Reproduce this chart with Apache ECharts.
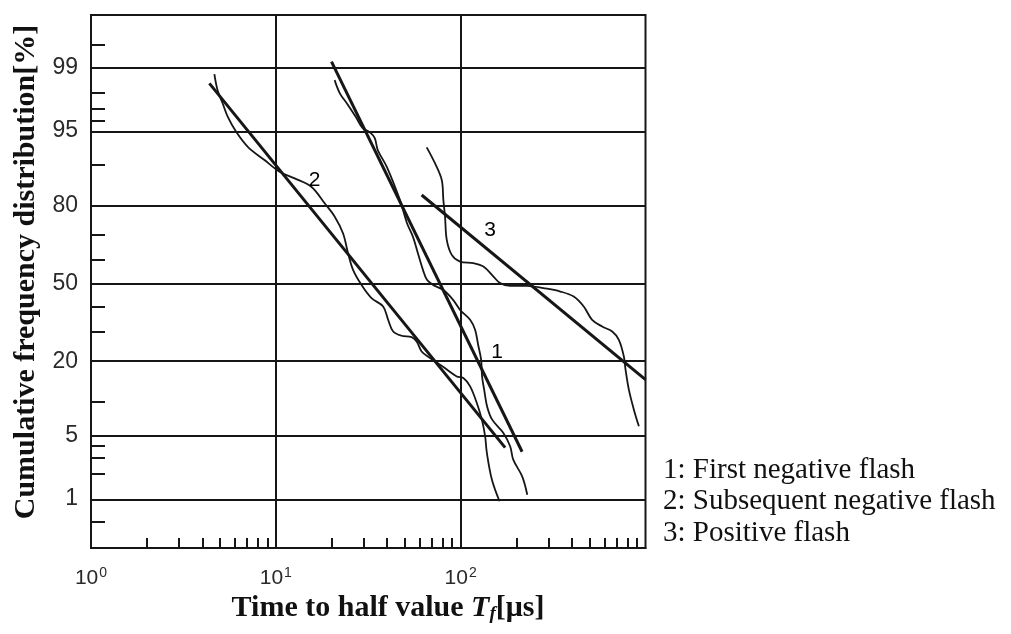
<!DOCTYPE html>
<html>
<head>
<meta charset="utf-8">
<script src="https://cdn.jsdelivr.net/npm/echarts@6/dist/echarts.min.js"></script>
<style>
  html, body { margin: 0; padding: 0; background: #fff; }
  #chart { width: 1011px; height: 634px; }
</style>
</head>
<body>
<div id="chart"></div>
<script>
// Probability-grid tick values (cumulative %)
const yTickPct = [1, 5, 20, 50, 80, 95, 99];
const yMinorPct = [0.5, 2, 3, 4, 10, 30, 40, 60, 70, 90, 96, 97, 98, 99.5];
// Time axis (µs), logarithmic
const xLabelVals = [1, 10, 100];
const xGridVals = [10, 100];
const xMinorVals = [2, 3, 4, 5, 6, 7, 8, 9, 20, 30, 40, 50, 60, 70, 80, 90, 200, 300, 400, 500, 600, 700, 800, 900];

// [T (µs), cumulative %]
// 1: first negative flash
const fit1 = [[20.0, 99.16], [215, 3.47]];
const flash1 = [
  [20.8, 98.58], [22.2, 97.98], [24.2, 97.40], [27.1, 96.36], [29.5, 95.30], [32.2, 94.86],
  [34.3, 94.14], [35.6, 92.47], [39.9, 89.51], [46.9, 81.59], [51.2, 74.25], [55.2, 69.19],
  [58.0, 64.08], [62.5, 55.78], [65.7, 51.50], [70.8, 49.35], [80.3, 47.21], [91.0, 42.94],
  [99.2, 38.76], [112.5, 34.71], [119.7, 30.81], [124.3, 25.40], [129.0, 20.51], [130.6, 15.69],
  [134.0, 12.58], [139.1, 9.18], [148.1, 7.08], [169.9, 5.36], [185.4, 3.92], [192.5, 2.86],
  [215.4, 1.86], [229.3, 1.13]
];
// 2: subsequent negative flash
const fit2 = [[4.37, 98.45], [174, 3.82]];
const flash2 = [
  [4.65, 98.80], [4.84, 98.14], [5.16, 97.38], [5.49, 96.39], [6.10, 94.89], [7.05, 92.96],
  [8.68, 90.82], [10.47, 88.58], [12.64, 87.13], [15.56, 85.13], [18.37, 80.60], [20.83, 76.40],
  [23.09, 70.56], [24.59, 62.75], [26.17, 55.78], [29.06, 49.35], [32.93, 43.67], [38.07, 40.14],
  [40.53, 34.71], [43.14, 30.18], [47.90, 28.60], [54.29, 28.12], [57.78, 26.55], [61.50, 23.14],
  [68.23, 21.02], [80.27, 18.41], [95.24, 15.76], [103.4, 15.37], [112.5, 13.32], [122.3, 9.84],
  [130.2, 7.08], [135.6, 4.96], [138.6, 3.37], [147.5, 1.72], [162.2, 0.94]
];
// 3: positive flash
const fit3 = [[61.5, 82.96], [1000, 14.95]];
const flash3 = [
  [65.5, 92.88], [72.6, 90.24], [79.0, 86.75], [80.6, 81.59], [82.3, 76.40], [84.1, 68.03],
  [89.5, 62.06], [99.2, 59.28], [117.2, 58.61], [132.8, 57.18], [150.5, 52.92], [163.6, 50.09],
  [185.4, 48.93], [228.5, 48.93], [281.0, 47.94], [346.2, 46.48], [408.8, 44.35], [463.3, 40.14],
  [514.3, 34.71], [583.1, 32.09], [660.6, 30.18], [717.4, 27.14], [763.6, 21.52], [779.9, 17.59],
  [812.7, 12.58], [865.1, 8.66], [920.9, 6.16]
];
// Curve numbers placed on the plot at [T, %]
const curveTags = [['1', 157.6, 23.0], ['2', 16.2, 86.8], ['3', 144.4, 71.8]];
const legendLines = ['1: First negative flash', '2: Subsequent negative flash', '3: Positive flash'];

// Inverse standard normal CDF (Acklam), maps % to the probability-paper scale
function probit(pct) {
  const p = pct / 100;
  const a = [-3.969683028665376e+01, 2.209460984245205e+02, -2.759285104469687e+02, 1.383577518672690e+02, -3.066479806614716e+01, 2.506628277459239e+00];
  const b = [-5.447609879822406e+01, 1.615858368580409e+02, -1.556989798598866e+02, 6.680131188771972e+01, -1.328068155288572e+01];
  const c = [-7.784894002430293e-03, -3.223964580411365e-01, -2.400758296709843e+00, -2.549732539343734e+00, 4.374664141464968e+00, 2.938163982698783e+00];
  const d = [7.784695709041462e-03, 3.224671290700398e-01, 2.445134137142996e+00, 3.754408661907416e+00];
  const pl = 0.02425;
  let q, r;
  if (p < pl) {
    q = Math.sqrt(-2 * Math.log(p));
    return (((((c[0] * q + c[1]) * q + c[2]) * q + c[3]) * q + c[4]) * q + c[5]) / ((((d[0] * q + d[1]) * q + d[2]) * q + d[3]) * q + 1);
  }
  if (p > 1 - pl) {
    q = Math.sqrt(-2 * Math.log(1 - p));
    return -(((((c[0] * q + c[1]) * q + c[2]) * q + c[3]) * q + c[4]) * q + c[5]) / ((((d[0] * q + d[1]) * q + d[2]) * q + d[3]) * q + 1);
  }
  q = p - 0.5; r = q * q;
  return (((((a[0] * r + a[1]) * r + a[2]) * r + a[3]) * r + a[4]) * r + a[5]) * q / (((((b[0] * r + b[1]) * r + b[2]) * r + b[3]) * r + b[4]) * r + 1);
}
const toPlot = arr => arr.map(([t, p]) => [t, probit(p)]);

const INK = '#161616';
const yMajorZ = yTickPct.map(probit);

const chart = echarts.init(document.getElementById('chart'), null, { renderer: 'canvas' });

function curve(name, data, width) {
  return {
    name, type: 'line', xAxisIndex: 0, yAxisIndex: 0,
    data: toPlot(data), showSymbol: false, symbol: 'none',
    smooth: width < 2.5 ? 0.35 : false,
    lineStyle: { color: INK, width }, silent: true, z: 5
  };
}

chart.setOption({
  animation: false,
  backgroundColor: '#fff',
  grid: {
    left: 91, right: 365.5, top: 15, bottom: 86,
    show: true, borderColor: INK, borderWidth: 2, backgroundColor: 'transparent',
    containLabel: false, outerBoundsMode: 'none'
  },
  xAxis: [
    {
      type: 'log', logBase: 10, min: 1, max: 1000, position: 'bottom',
      axisLine: { show: true, onZero: false, lineStyle: { color: INK, width: 2 } },
      axisTick: { show: false },
      splitLine: { show: false },
      axisLabel: {
        customValues: xLabelVals,
        margin: 18,
        formatter: v => '{b|10}{s|' + Math.round(Math.log10(v)) + '}',
        rich: {
          b: { fontFamily: 'Liberation Sans', fontSize: 21, color: '#2a2a2a' },
          s: { fontFamily: 'Liberation Sans', fontSize: 14, color: '#2a2a2a', verticalAlign: 'top', padding: [0, 0, 10, 1] }
        }
      }
    },
    {
      type: 'log', logBase: 10, min: 1, max: 1000, position: 'bottom',
      axisLine: { show: false, onZero: false },
      axisLabel: { show: false },
      splitLine: { show: false },
      axisTick: { show: true, inside: true, length: 10, customValues: xMinorVals, lineStyle: { color: INK, width: 2 } }
    }
  ],
  yAxis: [
    {
      type: 'value', min: -2.854, max: 2.894,
      axisLine: { show: true, onZero: false, lineStyle: { color: INK, width: 2 } },
      axisTick: { show: false },
      splitLine: { show: false },
      axisLabel: {
        customValues: yMajorZ,
        margin: 13,
        fontFamily: 'Liberation Sans', fontSize: 23, color: '#2a2a2a',
        formatter: v => {
          let best = 0;
          yMajorZ.forEach((z, i) => { if (Math.abs(z - v) < Math.abs(yMajorZ[best] - v)) best = i; });
          return String(yTickPct[best]);
        }
      }
    },
    {
      type: 'value', min: -2.854, max: 2.894, position: 'left',
      axisLine: { show: false, onZero: false },
      axisLabel: { show: false },
      splitLine: { show: false },
      axisTick: { show: true, inside: true, length: 14, customValues: yMinorPct.map(probit), lineStyle: { color: INK, width: 2 } }
    }
  ],
  series: [
    {
      name: 'grid', type: 'line', data: [], silent: true,
      markLine: {
        silent: true, symbol: 'none', animation: false,
        label: { show: false },
        lineStyle: { color: INK, width: 2, type: 'solid' },
        data: yMajorZ.map(z => ({ yAxis: z })).concat(xGridVals.map(v => ({ xAxis: v })))
      }
    },
    curve('First negative flash (fit)', fit1, 3),
    curve('First negative flash', flash1, 1.8),
    curve('Subsequent negative flash (fit)', fit2, 3),
    curve('Subsequent negative flash', flash2, 1.8),
    curve('Positive flash (fit)', fit3, 3),
    curve('Positive flash', flash3, 1.8),
    {
      name: 'tags', type: 'scatter', symbolSize: 0, silent: true, z: 6,
      itemStyle: { opacity: 1 },
      data: curveTags.map(([s, t, p]) => ({ value: [t, probit(p)], name: s })),
      label: {
        show: true, position: 'inside', formatter: d => d.name,
        fontFamily: 'Liberation Sans', fontSize: 21, color: '#000', opacity: 1
      }
    }
  ],
  graphic: [
    {
      type: 'text', x: 26, y: 272, rotation: Math.PI / 2,
      style: {
        text: 'Cumulative frequency distribution[%]',
        font: 'bold 30px "Liberation Serif"', fill: '#111',
        align: 'center', verticalAlign: 'middle'
      }
    },
    {
      type: 'text', x: 388, y: 608,
      style: {
        text: '{b|Time to half value }{i|T}{f|f}{b|[μs]}',
        align: 'center', verticalAlign: 'middle',
        rich: {
          b: { font: 'bold 30px "Liberation Serif"', fill: '#111' },
          i: { font: 'italic bold 30px "Liberation Serif"', fill: '#111' },
          f: { font: 'italic bold 19px "Liberation Serif"', fill: '#111', verticalAlign: 'bottom', padding: [12, 0, 0, 0] }
        }
      }
    }
  ].concat(legendLines.map((t, i) => ({
    type: 'text', x: 663, y: 470 + i * 31.7,
    style: { text: t, font: '29px "Liberation Serif"', fill: '#111', align: 'left', verticalAlign: 'middle' }
  })))
});
</script>
</body>
</html>
